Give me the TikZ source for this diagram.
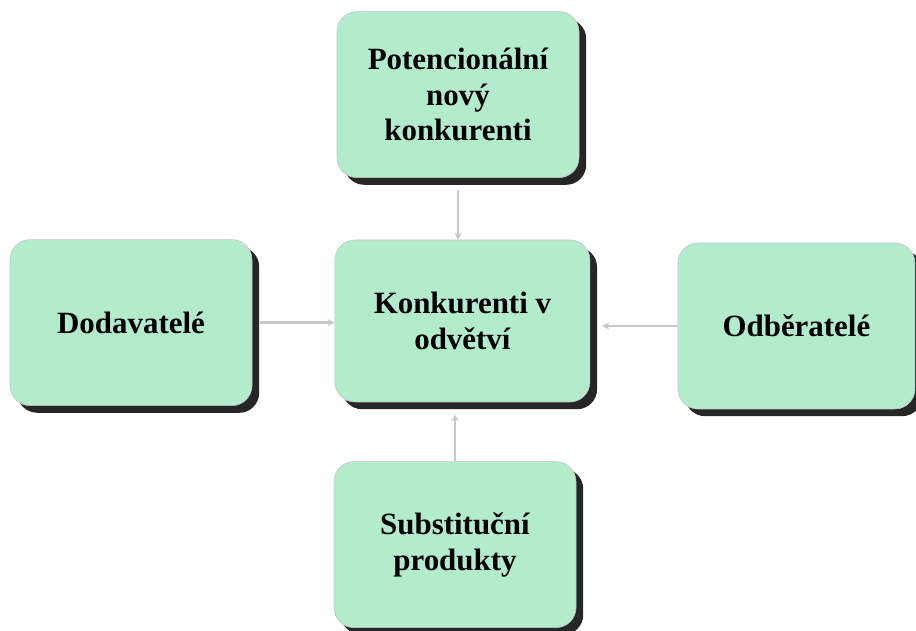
\documentclass[tikz,border=0pt]{standalone}
\usepackage{fontspec}
\setmainfont{Liberation Serif}
\usetikzlibrary{shadows,arrows.meta}
\definecolor{boxgreen}{RGB}{178,236,204}
\definecolor{arrowgray}{RGB}{200,200,200}
\begin{document}
\begin{tikzpicture}[
  box/.style={draw=gray!45,fill=boxgreen,rounded corners=0.5cm,
    minimum width=6.05cm,minimum height=4.15cm,align=center,
    font=\fontsize{22}{25.5}\selectfont\bfseries,
    general shadow={shadow xshift=0.18cm,shadow yshift=-0.18cm,fill=black!85,opacity=1}},
  arr/.style={-{Stealth[length=5pt,width=5pt]},line width=1.6pt,arrowgray}
]
  \useasboundingbox (0,0) rectangle (22.9,15.775);
  \node[box] (pot) at (11.45,13.41) {Potencionální\\nový\\konkurenti};
  \node[box] (dod) at (3.275,7.71) {Dodavatelé};
  \node[box,minimum width=6.375cm,minimum height=4.05cm] (konk) at (11.56,7.75) {Konkurenti v\\odvětví};
  \node[box,minimum width=5.925cm] (odb) at (19.91,7.625) {Odběratelé};
  \node[box] (sub) at (11.375,2.16) {Substituční\\produkty};
  \draw[arr,shorten <=0.3cm] (pot.south) -- (pot.south |- konk.north);
  \draw[arr,shorten <=0.2cm] (dod.east) -- (dod.east -| konk.west);
  \draw[arr,shorten >=0.3cm] (odb.west) -- (odb.west -| konk.east);
  \draw[arr,shorten >=0.3cm] (sub.north) -- (sub.north |- konk.south);
\end{tikzpicture}
\end{document}
